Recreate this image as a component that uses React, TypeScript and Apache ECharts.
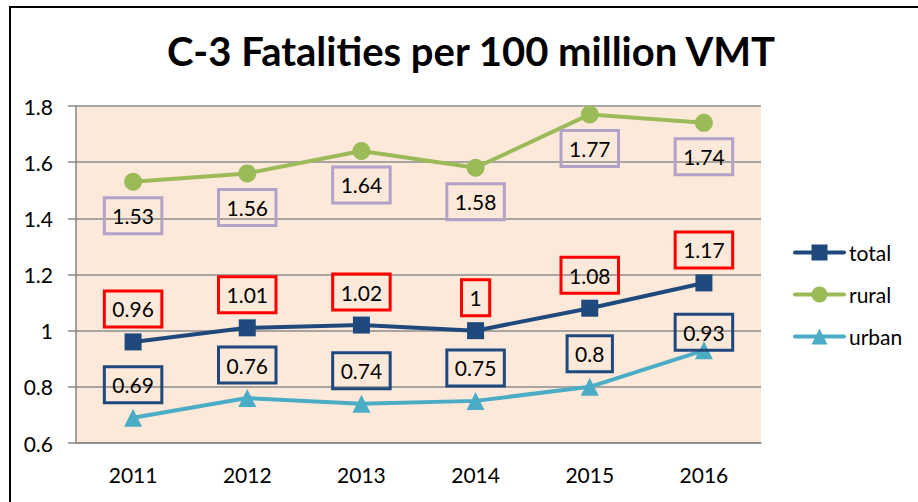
import React, { useEffect, useRef } from "react";
import * as echarts from "echarts";

const years = ["2011", "2012", "2013", "2014", "2015", "2016"];
const total = [0.96, 1.01, 1.02, 1, 1.08, 1.17];
const rural = [1.53, 1.56, 1.64, 1.58, 1.77, 1.74];
const urban = [0.69, 0.76, 0.74, 0.75, 0.8, 0.93];
const yTicks = ["0.6", "0.8", "1", "1.2", "1.4", "1.6", "1.8"];

const FONT = "Lato, 'Open Sans', sans-serif";

function boxLabel(color: string, dy: number) {
  return {
    show: true,
    position: "inside" as const,
    offset: [0, dy],
    color: "#000",
    fontFamily: FONT,
    fontSize: 21,
    lineHeight: 22,
    padding: [7, 8, 7, 8],
    borderColor: color,
    borderWidth: 1.5,
    backgroundColor: "transparent",
  };
}

export default function App() {
  const ref = useRef<HTMLDivElement>(null);
  useEffect(() => {
    if (!ref.current) return;
    const chart = echarts.init(ref.current, undefined, { renderer: "svg" });
    const urbanData = urban.map((v, i) =>
      i === urban.length - 1
        ? { value: v, label: { offset: [0, -18] } }
        : v
    );
    chart.setOption({
      animation: false,
      backgroundColor: "#fff",
      title: {
        text: "C-3 Fatalities per 100 million VMT",
        left: 466,
        top: 26,
        textAlign: "center",
        textStyle: {
          fontFamily: FONT,
          fontWeight: "bold",
          fontSize: 40,
          color: "#000",
        },
      },
      legend: {
        orient: "vertical",
        left: 793,
        top: 242,
        padding: 0,
        itemWidth: 49,
        itemHeight: 20,
        itemGap: 21,
        lineStyle: { width: 4, cap: "round" },
        textStyle: { fontFamily: FONT, fontSize: 21, color: "#000" },
        data: ["total", "rural", "urban"],
      },
      grid: {
        left: 76,
        top: 106,
        right: 157,
        bottom: 59,
        show: true,
        backgroundColor: "#FDE9D9",
        borderWidth: 0,
      },
      xAxis: {
        type: "category",
        data: years,
        boundaryGap: true,
        axisLine: { lineStyle: { color: "#878787", width: 1.5 } },
        axisTick: { length: 8, lineStyle: { color: "#878787", width: 1.5 } },
        axisLabel: { fontFamily: FONT, fontSize: 21, color: "#000", margin: 21 },
      },
      yAxis: {
        type: "value",
        min: 0.6,
        max: 1.8,
        interval: 0.2,
        axisLine: { show: true, lineStyle: { color: "#878787", width: 1.5 } },
        axisTick: { show: true, length: 8, lineStyle: { color: "#878787", width: 1.5 } },
        splitLine: { lineStyle: { color: "#8c8c8c", width: 1.5 } },
        axisLabel: {
          fontFamily: FONT,
          fontSize: 21,
          color: "#000",
          margin: 23,
          formatter: (v: number) => {
            const idx = Math.round((v - 0.6) / 0.2);
            return yTicks[idx] ?? String(v);
          },
        },
      },
      series: [
        {
          name: "total",
          type: "line",
          data: total,
          symbol: "rect",
          symbolSize: 17,
          color: "#1F497D",
          lineStyle: { width: 4, color: "#1F497D" },
          itemStyle: { color: "#1F497D" },
          label: boxLabel("#FF0000", -33),
          z: 3,
        },
        {
          name: "rural",
          type: "line",
          data: rural,
          symbol: "circle",
          symbolSize: 18,
          color: "#9BBB59",
          lineStyle: { width: 4, color: "#9BBB59" },
          itemStyle: { color: "#9BBB59" },
          label: boxLabel("#B3A2C7", 34),
          z: 3,
        },
        {
          name: "urban",
          type: "line",
          data: urbanData,
          symbol: "triangle",
          symbolSize: 18,
          color: "#4BACC6",
          lineStyle: { width: 4, color: "#4BACC6" },
          itemStyle: { color: "#4BACC6" },
          label: boxLabel("#1F497D", -33),
          z: 3,
        },
      ],
      graphic: [
        {
          type: "polyline",
          shape: { points: [[10, 502], [10, 7], [918, 7]] },
          style: { stroke: "#000", lineWidth: 2, fill: "none" },
          z: 100,
        },
      ],
    });
    return () => chart.dispose();
  }, []);
  return (
    <div
      ref={ref}
      style={{ position: "absolute", left: 0, top: 0, width: 918, height: 502 }}
    />
  );
}
